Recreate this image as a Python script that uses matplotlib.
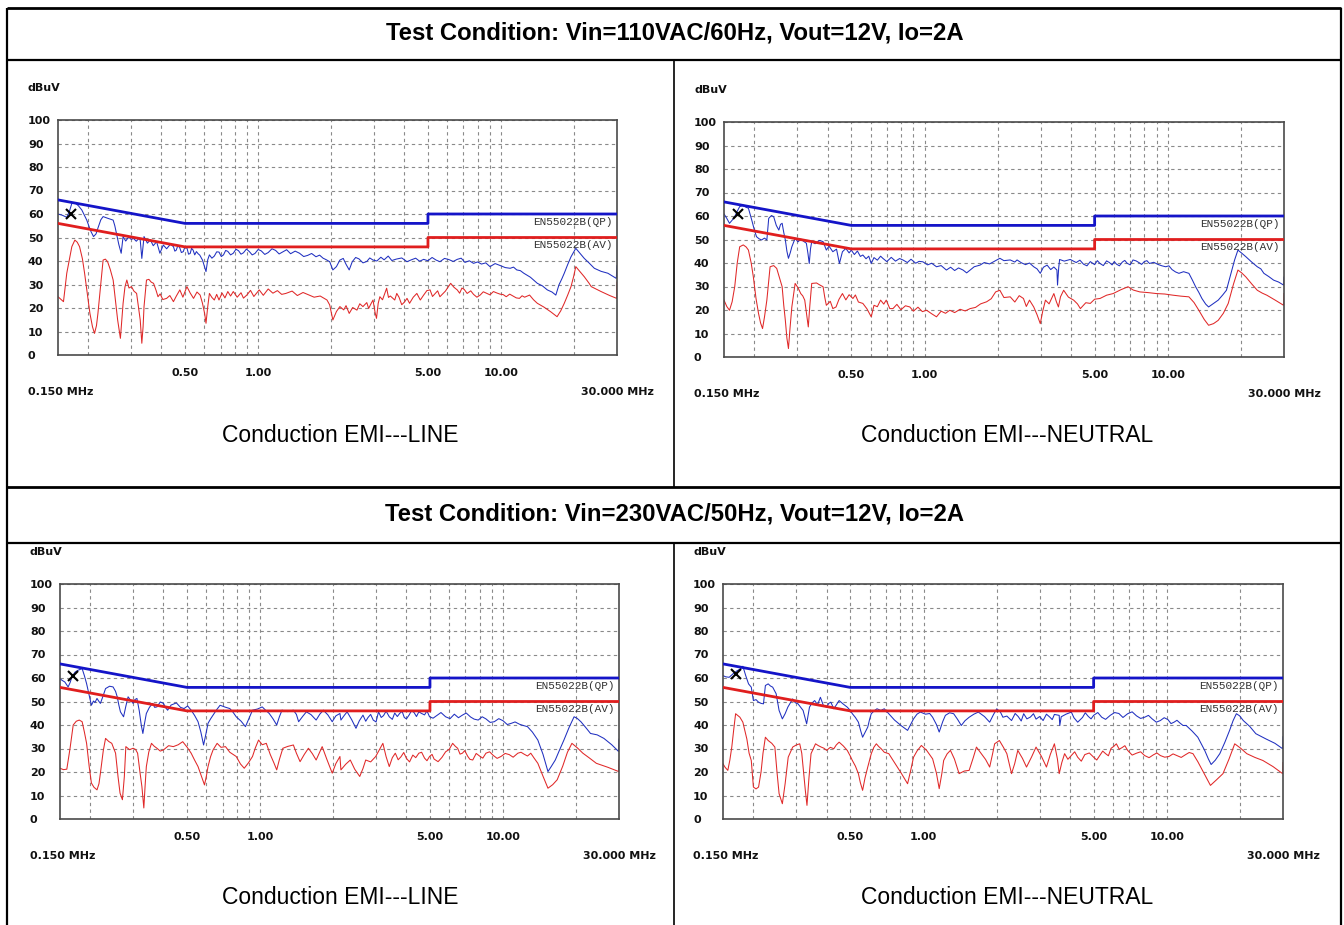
import matplotlib
matplotlib.use('Agg')
import matplotlib.pyplot as plt
import matplotlib.transforms as mtransforms
from matplotlib.lines import Line2D
from matplotlib.ticker import NullFormatter
import numpy as np

# ---- data (freq MHz, level dBuV) ----
titles = ["Test Condition: Vin=110VAC/60Hz, Vout=12V, Io=2A",
          "Test Condition: Vin=230VAC/50Hz, Vout=12V, Io=2A"]
captions = ["Conduction EMI---LINE", "Conduction EMI---NEUTRAL"]

lim_f = [0.15, 0.5, 5, 5, 30]
lim_qp = [66, 56, 56, 60, 60]
lim_av = [56, 46, 46, 50, 50]

y_ticks = [0, 10, 20, 30, 40, 50, 60, 70, 80, 90, 100]
x_ticks = [0.5, 1, 5, 10]
x_ticklabels = ["0.50", "1.00", "5.00", "10.00"]
x_grid = [0.2, 0.3, 0.4, 0.6, 0.7, 0.8, 0.9, 2, 3, 4, 6, 7, 8, 9, 20]

l110_qp = [(0.15,60),(0.156,59.5),(0.163,58.6),(0.167,61),(0.171,64.5),(0.176,64.8),(0.182,63.5),(0.188,61.7),
    (0.197,57.4),(0.204,53),(0.21,50.4),(0.215,51.5),(0.219,54),(0.225,57.5),(0.23,58.9),(0.24,58.2),(0.253,57.4),
    (0.257,55),(0.261,51.8),(0.267,47),(0.273,43.3),(0.278,50.4),(0.285,48.5),(0.293,50.2),(0.3,49.2),(0.307,49.6),
    (0.315,48.4),(0.322,49.5),(0.327,48.9),(0.332,41.1),(0.339,50.4),(0.35,47.6),(0.36,49),(0.37,46.5),(0.382,48.2),
    (0.394,43.3),(0.407,46.8),(0.42,45.2),(0.435,47.1),(0.448,46.1),(0.454,44.2),(0.46,44.6),(0.467,46.5),
    (0.475,45.8),(0.483,43.6),(0.492,44),(0.5,46.2),(0.51,45.3),(0.517,42.9),(0.525,43.2),(0.532,45.4),(0.54,44.6),
    (0.548,42.6),(0.557,44),(0.566,43.1),(0.575,42.5),(0.582,41.5),(0.59,40.4),(0.6,38),(0.61,35.5),(0.62,40.5),
    (0.63,42.6),(0.645,41.2),(0.66,42.1),(0.675,43.9),(0.69,43.8),(0.705,41.9),(0.72,42.6),(0.735,44.5),(0.75,44.1),
    (0.77,42.6),(0.79,43.3),(0.81,45),(0.83,44.4),(0.85,42.9),(0.87,43.5),(0.895,45.1),(0.92,44),(0.945,42.6),
    (0.97,43.2),(1.0,44.9),(1.03,44.3),(1.065,42.8),(1.1,43.6),(1.14,45.2),(1.18,44.5),(1.22,43),(1.27,44),
    (1.31,44.8),(1.36,43.1),(1.42,44.2),(1.48,43.3),(1.54,41.9),(1.6,42.4),(1.66,43.2),(1.73,41.8),(1.79,42.5),
    (1.85,41.2),(1.91,40.5),(1.97,39.7),(2.03,36.2),(2.1,37.6),(2.17,40.4),(2.24,41.1),(2.3,38.6),(2.37,36.2),
    (2.44,39.7),(2.52,41.5),(2.6,40.9),(2.7,39.2),(2.8,39.8),(2.88,41.3),(2.97,40.4),(3.08,40),(3.2,41.6),
    (3.3,40.5),(3.43,42.1),(3.55,40.2),(3.7,40.8),(3.9,41.3),(4.1,39.7),(4.27,40.5),(4.45,41.2),(4.62,39.9),
    (4.8,40.7),(5.0,40.1),(5.2,41.5),(5.4,40.4),(5.6,39.7),(5.85,41.1),(6.1,40.6),(6.35,39.8),(6.6,40.7),
    (6.85,41.2),(7.1,39.4),(7.4,40.1),(7.7,39),(8.0,39.6),(8.3,38.7),(8.65,39.2),(9.0,37.6),(9.45,38.9),(9.9,38.1),
    (10.4,37.2),(10.9,36.9),(11.25,37.4),(11.6,36.2),(12.0,35.9),(12.4,34.8),(13.2,33.1),(14.1,30.5),
    (14.8,29.4),(15.5,27.7),(16.2,26.8),(16.8,25.5),(17.3,29.8),(17.8,32.5),(18.2,34.8),(18.8,38.5),(19.4,41.8),
    (20.3,45.4),(21.1,43.3),(22,41.1),(23,39.2),(24.2,36.9),(25.8,35.6),(27.5,34.8),(29.8,32.6),(30,38)]

l110_av = [(0.15,24.8),(0.155,23.5),(0.158,22.7),(0.163,34.8),(0.168,42),(0.171,46.1),(0.176,48.9),(0.18,48),
    (0.184,46.1),(0.189,41),(0.193,34.8),(0.198,26),(0.203,17.7),(0.208,12),(0.212,9.2),(0.216,12.5),(0.219,17.7),
    (0.225,30),(0.23,40.4),(0.235,40.8),(0.24,39.7),(0.246,36.5),(0.253,31.9),(0.258,24),(0.264,14.9),(0.271,7.1),
    (0.278,22),(0.283,29),(0.288,31.9),(0.294,28.5),(0.301,29.1),(0.308,27.2),(0.316,26.2),(0.322,20),(0.327,14.9),
    (0.332,5),(0.336,12),(0.339,20.6),(0.347,31.9),(0.355,32.2),(0.363,31),(0.371,30.5),(0.38,27.5),(0.387,24.8),
    (0.395,26),(0.405,23.6),(0.42,24.1),(0.433,25.3),(0.448,22.7),(0.46,25),(0.476,27.7),(0.49,24.6),(0.509,29.1),
    (0.525,26.4),(0.542,24.1),(0.56,26.8),(0.577,25.5),(0.59,22),(0.602,17.7),(0.61,13.5),(0.62,20.5),(0.63,26.2),
    (0.645,24.5),(0.66,23.4),(0.675,25.8),(0.69,23.4),(0.71,26.4),(0.73,24.3),(0.75,27),(0.77,25.1),(0.79,27),
    (0.82,24.6),(0.85,26.5),(0.87,24.2),(0.9,25.6),(0.93,27.5),(0.96,24.9),(1.01,27.7),(1.05,25.4),(1.1,28.1),
    (1.15,26.3),(1.2,27.4),(1.25,25.8),(1.3,26.2),(1.38,27.2),(1.45,25.3),(1.53,26.6),(1.62,25.5),(1.7,24.6),
    (1.8,25.1),(1.92,23.4),(1.97,21.3),(2.03,14.9),(2.1,18.5),(2.17,20.6),(2.25,19.2),(2.3,21),(2.37,17.7),
    (2.45,20.2),(2.55,19.1),(2.62,21.8),(2.7,20.6),(2.8,22.3),(2.85,19.8),(2.9,21.4),(2.97,23.4),(3.03,18),
    (3.07,15.6),(3.12,22),(3.17,24.8),(3.25,23.5),(3.38,28.4),(3.44,24.5),(3.5,25.1),(3.65,23.4),(3.72,26.2),
    (3.8,24.6),(3.9,21.4),(4.0,22.5),(4.1,24.1),(4.2,22),(4.35,24.6),(4.5,26.2),(4.65,23.4),(4.8,25.5),(4.95,27.4),
    (5.1,27.7),(5.22,24.9),(5.35,26.1),(5.48,27.3),(5.6,24.8),(5.75,26),(5.9,27.2),(6.2,30.5),(6.4,28.8),(6.6,27.7),
    (6.75,26.3),(6.9,28.5),(7.05,27.9),(7.25,26.2),(7.5,27.3),(7.7,25.8),(7.95,24.6),(8.2,25.5),(8.45,26.9),
    (8.7,26.3),(9.0,25.6),(9.3,27),(9.6,26.4),(9.9,25.9),(10.2,25.7),(10.5,24.8),(10.85,25.9),(11.2,25.1),
    (11.55,24.3),(11.9,24.1),(12.2,25.2),(12.5,24.6),(13.1,25.5),(13.6,23.5),(14.1,22),(15,20.4),(16,18.4),
    (17,16.3),(17.6,18.8),(18.2,22),(18.8,25.5),(19.4,29.1),(19.9,33.5),(20.3,37.6),(21.1,35.5),(22,33.3),
    (23,30.6),(23.5,29.1),(25.8,27),(28,25.3),(29.9,24.1),(30,31)]

n110_qp = [(0.15,60.9),(0.154,59),(0.158,56.9),(0.162,58.2),(0.166,59.7),(0.17,62),(0.174,64),(0.18,64.6),
    (0.185,63.7),(0.189,63.3),(0.195,58.3),(0.2,54),(0.204,51.2),(0.209,50.3),(0.214,49.8),(0.22,50.6),(0.225,49.8),
    (0.229,59),(0.235,60.2),(0.24,59.7),(0.246,56),(0.252,54),(0.256,56.4),(0.26,56.9),(0.264,53),(0.268,49.8),
    (0.272,45),(0.276,42),(0.281,44.5),(0.285,46.9),(0.294,50.5),(0.302,49),(0.31,50.2),(0.318,49.3),(0.327,48.4),
    (0.332,44),(0.336,39.8),(0.34,46),(0.344,49.1),(0.355,48.2),(0.37,49.6),(0.383,49.1),(0.395,45.5),(0.405,47.2),
    (0.42,44.8),(0.435,45.9),(0.447,39.8),(0.46,44.8),(0.475,46.2),(0.49,44.3),(0.5,45.5),(0.515,43.6),(0.53,45.1),
    (0.545,42.8),(0.558,43.4),(0.575,41.8),(0.59,42.9),(0.604,39.8),(0.62,42.3),(0.64,41.2),(0.66,42.9),(0.674,42),
    (0.7,40.6),(0.73,42.4),(0.76,40.8),(0.79,41.9),(0.815,41.3),(0.85,40.2),(0.88,41.6),(0.92,39.9),(0.95,40.7),
    (0.985,40.5),(1.03,39.2),(1.07,39.9),(1.12,38.4),(1.17,38.9),(1.23,37),(1.28,38.2),(1.33,36.8),(1.38,37.9),
    (1.44,37),(1.49,35.8),(1.54,37),(1.6,38.4),(1.69,39.1),(1.76,40.2),(1.85,39.6),(1.98,41.3),(2.04,42),(2.12,41),
    (2.25,41.3),(2.35,40.4),(2.4,41.3),(2.5,40.1),(2.6,39.3),(2.7,40),(2.81,38.4),(2.9,37.5),(2.99,35.6),(3.08,38.2),
    (3.19,39.1),(3.3,37.2),(3.4,38.3),(3.5,37),(3.52,30.6),(3.56,38),(3.59,41.5),(3.75,40.8),(3.97,41.5),(4.2,40.2),
    (4.35,41.2),(4.5,39.5),(4.65,38.8),(4.8,40.6),(5.0,39.3),(5.13,41),(5.26,39.8),(5.43,38.9),(5.6,40.9),
    (5.75,40.2),(5.9,39.2),(6.02,40.6),(6.15,39.5),(6.32,38.8),(6.5,40.4),(6.65,41.1),(6.8,39.9),(7.0,39.2),
    (7.19,41.3),(7.4,40.9),(7.6,40.2),(7.8,39.4),(8.0,40.6),(8.2,41),(8.4,39.8),(8.75,40.3),(9.1,39.4),(9.45,38.8),
    (9.8,38.4),(10.1,38.8),(10.4,37.2),(10.75,36.2),(11.1,35.6),(11.6,36.3),(12.2,35.6),
    (12.6,32.8),(13,29.9),(13.4,27.5),(13.8,24.9),(14.3,22.5),(14.7,21.3),(15.4,22.8),(16.1,24.2),(16.8,26.4),
    (17.4,28.4),(18.1,35),(18.8,41.3),(19.4,45.5),(20.1,44.2),(20.9,42.7),(22.1,40.4),(23.3,38.4),(24.1,37.5),
    (24.8,35.6),(26,34.2),(27.2,32.7),(28.5,31.9),(29.9,30.6),(30,34)]

n110_av = [(0.15,24.2),(0.154,21.5),(0.158,19.9),(0.162,23.5),(0.166,29.9),(0.17,40),(0.174,46.9),(0.18,47.7),
    (0.185,46.8),(0.189,45.5),(0.194,40),(0.198,34.1),(0.203,25),(0.208,18.5),(0.212,14.5),(0.216,12.1),(0.22,17),
    (0.225,24.2),(0.232,38.4),(0.24,38.9),(0.247,37.7),(0.253,34),(0.26,29.9),(0.264,22),(0.268,15.6),(0.272,8),
    (0.276,3.6),(0.28,12),(0.285,21.3),(0.294,31.3),(0.302,29.5),(0.31,27),(0.316,26),(0.322,24.2),(0.328,18),
    (0.333,12.8),(0.338,22),(0.344,31.3),(0.36,31.5),(0.372,30.6),(0.383,29.9),(0.389,25.5),(0.395,22),(0.41,23.7),
    (0.42,20.6),(0.433,21.3),(0.445,24.5),(0.46,27),(0.475,24.3),(0.49,26.5),(0.508,24.9),(0.52,26.4),(0.535,23.4),
    (0.558,22.8),(0.58,20.5),(0.604,17.1),(0.62,22),(0.64,21.4),(0.66,24.2),(0.68,22.5),(0.696,24.2),(0.72,20.6),
    (0.742,20.6),(0.77,22.4),(0.8,20.1),(0.835,21.8),(0.87,21.3),(0.9,19.5),(0.94,21.2),(0.98,19.3),(1.02,19.9),
    (1.07,18.4),(1.12,17.1),(1.17,19.5),(1.22,18.6),(1.27,19.9),(1.33,18.9),(1.4,20.3),(1.47,19.6),(1.54,20.6),
    (1.62,21.1),(1.7,22.6),(1.8,23.5),(1.88,24.8),(1.96,27.7),(2.04,28.4),(2.12,25.3),(2.25,25.6),(2.35,23.4),
    (2.45,26.1),(2.55,24.9),(2.62,21.5),(2.7,24.2),(2.81,21.3),(2.9,18),(2.99,14.2),(3.06,19.5),(3.14,24.2),
    (3.25,22.6),(3.4,27),(3.48,23.6),(3.55,21.3),(3.62,25.6),(3.73,28.4),(3.9,25.5),(4.1,24.2),(4.25,22.6),
    (4.37,20.6),(4.6,23.1),(4.8,22.8),(5.0,24.6),(5.26,24.9),(5.6,26.3),(5.96,27),(6.4,28.6),(6.86,29.9),(7.2,28.5),
    (7.67,27.7),(8.3,27.4),(8.96,27),(9.7,26.8),(10.5,26.3),(11.3,25.9),(12.2,25.6),(12.8,23.2),(13.4,19.9),
    (14.1,16),(14.7,13.5),(15.4,14.2),(16.1,15.6),(16.9,18.6),(17.7,22.8),(18.6,31),(19.4,37),(20.1,35.8),
    (20.9,34.1),(22.1,31.1),(23.3,28.4),(24.4,27.2),(25.5,26.3),(27.6,24.2),(29.9,22),(30,27)]

l230_qp = [(0.15,59.7),(0.153,59),(0.157,58.3),(0.162,56.2),(0.165,58),(0.168,60.5),(0.173,62.5),(0.178,63.3),
    (0.185,64),(0.189,61),(0.193,57.6),(0.199,51.3),(0.202,48.4),(0.206,50.2),(0.209,49.6),(0.213,51.3),(0.217,50),
    (0.22,49.2),(0.225,52),(0.231,55.5),(0.24,56.5),(0.248,56.2),(0.254,54.3),(0.258,52),(0.262,48.5),(0.266,45.6),
    (0.274,43.5),(0.28,48),(0.286,52),(0.293,50.5),(0.3,49.2),(0.305,50.8),(0.311,51.3),(0.318,46),(0.324,40),
    (0.329,36.4),(0.334,40.5),(0.34,44.9),(0.35,47.5),(0.361,49.2),(0.368,47.5),(0.376,47.7),(0.388,49.8),(0.4,49.2),
    (0.408,47.4),(0.416,46.3),(0.43,48.5),(0.452,49.4),(0.47,47.5),(0.486,47),(0.503,48.1),(0.52,46.3),(0.537,44.1),
    (0.555,41.4),(0.57,37),(0.585,31.5),(0.597,35.8),(0.61,40.7),(0.625,42.6),(0.64,44.2),(0.662,46.5),(0.684,48.4),
    (0.718,47.6),(0.75,47),(0.775,45.3),(0.797,43.5),(0.835,41.6),(0.87,39.3),(0.9,42.8),(0.93,46.3),(0.975,46.8),
    (1.02,47.7),(1.055,46.2),(1.09,44.9),(1.13,42.6),(1.17,40),(1.2,43.5),(1.23,46.3),(1.3,45.7),(1.37,46.3),
    (1.41,44.5),(1.44,41.4),(1.5,43.8),(1.55,45.6),(1.62,44.4),(1.7,42.1),(1.76,44.6),(1.82,46.3),(1.9,44.3),
    (1.98,41.4),(2.05,43.9),(2.13,44.9),(2.15,42.1),(2.22,44.1),(2.28,45.6),(2.38,42.3),(2.48,38.6),(2.56,41.8),
    (2.65,44.2),(2.72,41.6),(2.78,43.2),(2.85,44.5),(2.92,42.1),(3.0,41.3),(3.07,45.6),(3.15,43.2),(3.22,44),
    (3.3,45.9),(3.4,43.5),(3.5,42.4),(3.58,45.1),(3.67,43.6),(3.75,44.9),(3.84,45.8),(3.92,43.2),(4.0,42.6),
    (4.1,44.2),(4.2,46.1),(4.3,45.3),(4.4,43.6),(4.5,45.6),(4.62,44.9),(4.75,44.3),(4.86,46),(4.98,43.5),
    (5.15,42.9),(5.35,44.1),(5.55,45.3),(5.8,43.5),(6.05,42.7),(6.3,44.6),(6.55,43.1),(6.8,44.2),(7.05,45.1),
    (7.35,43.4),(7.6,42.5),(7.9,42.1),(8.2,43.5),(8.5,42.6),(8.85,41.1),(9.2,41.4),(9.6,42.7),(10,41.8),
    (10.4,40.2),(10.8,40.7),(11.2,41.3),(11.7,40.3),(12.1,39.8),(12.6,39.3),(13.2,37),
    (13.9,33.6),(14.6,27.5),(15.3,20.2),(15.8,22.4),(16.4,25.1),(17.1,29.5),(17.8,33.6),(18.7,39),(19.6,43.5),
    (20.2,42.8),(20.9,41.4),(21.9,38.9),(22.9,36.4),(24.4,35.8),(26,34.3),(28,31.6),(29.9,28.7),(30,34)]

l230_av = [(0.15,21.6),(0.155,21),(0.16,21.2),(0.165,30.1),(0.17,40),(0.175,41.6),(0.18,42.1),(0.185,41.4),
    (0.189,37),(0.193,32.2),(0.198,22),(0.202,15.3),(0.207,13.5),(0.213,12.4),(0.217,15),(0.22,19.5),(0.226,29),
    (0.231,34.3),(0.238,33),(0.245,32.2),(0.254,28),(0.26,18),(0.265,11),(0.271,8.2),(0.276,18),(0.28,30.8),
    (0.29,29.5),(0.3,30.1),(0.307,29.6),(0.313,28),(0.32,20),(0.326,13.8),(0.332,4.7),(0.336,14),(0.34,22.3),
    (0.348,28.5),(0.357,32.2),(0.366,31),(0.376,30.1),(0.388,28.9),(0.4,29.4),(0.42,31.2),(0.439,30.8),(0.46,31.6),
    (0.48,32.9),(0.5,30.6),(0.52,28),(0.537,25.1),(0.555,22.3),(0.572,18.5),(0.59,14.5),(0.6,18),(0.61,22.3),
    (0.625,26.5),(0.64,29.4),(0.665,32.2),(0.69,30.5),(0.72,30.8),(0.75,28.4),(0.797,26.6),(0.83,23.4),(0.86,21.6),
    (0.895,23.9),(0.93,26.6),(0.955,30.2),(0.985,33.6),(1.02,31.6),(1.06,32.2),(1.1,27.5),(1.14,23.8),(1.17,20.9),
    (1.2,25.3),(1.24,30.1),(1.3,30.9),(1.37,31.5),(1.41,28),(1.46,24.4),(1.52,27.5),(1.58,30.1),(1.64,27.8),
    (1.7,25.1),(1.75,28),(1.8,30.8),(1.88,25.5),(1.98,19.5),(2.05,23.6),(2.13,26.6),(2.15,20.9),(2.25,23.3),
    (2.35,25.1),(2.45,21.2),(2.57,18.1),(2.65,21.5),(2.72,25.1),(2.85,24.3),(2.99,26.6),(3.1,29.6),(3.2,32.2),
    (3.3,26.5),(3.4,22.3),(3.5,26.1),(3.6,28),(3.7,25.2),(3.8,26.5),(3.9,28.3),(4.0,25.8),(4.12,24.3),(4.25,27.2),
    (4.37,26.1),(4.5,28),(4.62,28.4),(4.75,25.9),(4.86,24.8),(4.98,26.6),(5.1,27.5),(5.2,25.5),(5.4,24.4),
    (5.6,26.2),(5.8,28.6),(6.0,29.6),(6.2,32.2),(6.35,31),(6.5,30.1),(6.65,27.6),(6.8,28),(6.95,29.1),(7.15,26.7),
    (7.3,25.4),(7.5,25.1),(7.75,27.9),(8.0,26.8),(8.25,25.9),(8.5,28),(8.8,28.6),(9.1,27.1),(9.45,25.8),(9.8,26.6),
    (10.2,27.9),(10.6,27.4),(11.0,26.3),(11.5,28),(11.85,28.4),(12.2,27.6),(12.6,26.8),(13,28),(13.4,26),
    (13.9,23.7),(14.6,18.2),(15.3,13.1),(16,14.6),(16.7,16.7),(17.6,22.5),(18.4,28.4),(19.2,32.2),(20.2,30.3),
    (21.3,28),(22.7,25.9),(24.2,23.7),(27,22),(29.9,20.2),(30,25)]

n230_qp = [(0.15,61),(0.154,60.5),(0.159,60.3),(0.165,61.8),(0.171,63),(0.177,63.9),(0.181,65),(0.186,61),
    (0.191,57.5),(0.196,56.1),(0.2,50.4),(0.205,50.8),(0.21,49.7),(0.215,49.2),(0.22,49),(0.224,56.8),(0.23,57.5),
    (0.235,56.6),(0.24,56.1),(0.248,53.3),(0.255,46.2),(0.263,42.6),(0.27,44.8),(0.277,47.6),(0.29,51.1),
    (0.297,49.5),(0.305,49),(0.313,47.5),(0.32,46.2),(0.326,43),(0.331,40.5),(0.336,44.5),(0.34,47.6),(0.348,49.3),
    (0.357,50.4),(0.367,48.6),(0.377,51.8),(0.388,48.2),(0.4,47.6),(0.408,49.2),(0.416,49.7),(0.428,46.9),
    (0.438,48.5),(0.45,50.4),(0.468,48.9),(0.486,47.6),(0.5,46.2),(0.51,44.8),(0.525,43.2),(0.54,41.2),(0.552,37.5),
    (0.562,34.8),(0.575,36.8),(0.59,39.1),(0.6,42.3),(0.61,44.8),(0.628,46.1),(0.644,46.9),(0.668,46.2),(0.69,46.9),
    (0.72,44.8),(0.76,42.1),(0.81,39.7),(0.86,37.7),(0.885,40.2),(0.91,42.6),(0.94,44.6),(0.97,45.5),(1.02,44.6),
    (1.06,44.9),(1.09,43.3),(1.13,40.2),(1.16,37),(1.2,41.5),(1.23,44.1),(1.28,45.2),(1.33,44.8),(1.38,42.4),
    (1.43,39.8),(1.48,41.8),(1.54,43.3),(1.61,44.6),(1.68,45.5),(1.78,43.6),(1.87,41.2),(1.94,44.5),(2.0,46.9),
    (2.07,45.5),(2.12,43.3),(2.2,43.8),(2.3,41.9),(2.38,44.9),(2.45,43.6),(2.52,41.7),(2.58,44.8),(2.66,42.6),
    (2.75,43.4),(2.83,44.8),(2.9,42.5),(3.0,43.6),(3.1,41.9),(3.2,44.6),(3.3,43.4),(3.38,42.3),(3.45,44.5),
    (3.61,44.1),(3.63,39.8),(3.68,43.5),(3.85,44.6),(4.05,45.5),(4.15,43.1),(4.3,41.2),(4.5,43.2),(4.62,45.2),
    (4.75,43.7),(4.88,42.6),(5.0,44.1),(5.2,45.3),(5.4,43.3),(5.6,42.4),(5.85,44.1),(6.1,45.3),(6.35,44.9),
    (6.6,43.2),(6.9,44.8),(7.2,45.6),(7.5,43.9),(7.8,42.8),(8.1,43.3),(8.4,44.1),(8.7,42.6),(9.05,41.2),(9.4,41.9),
    (9.75,43.1),(10.1,42.3),(10.4,40.6),(10.7,41.2),(11.0,42),(11.3,40.9),(11.65,39.8),(12,39.8),(12.7,37.4),
    (13.4,34.8),(14.3,29.2),(14.8,25.6),(15.2,23.2),(15.8,25),(16.5,27.8),(17.3,32.6),(18.1,37.7),(18.7,41.8),
    (19.3,44.8),(19.9,43.9),(20.6,41.9),(21.9,39.4),(23.2,36.3),(24.3,35.2),(25.5,34.1),(27.8,32.2),(29.9,29.9),
    (30,35)]

n230_av = [(0.15,23.5),(0.153,22),(0.157,20.7),(0.16,25),(0.163,30.6),(0.166,38),(0.169,44.8),(0.176,43.3),
    (0.181,41.2),(0.188,34),(0.192,28),(0.196,24.9),(0.2,13.6),(0.205,12.8),(0.21,13.6),(0.215,20),(0.219,28),
    (0.224,34.8),(0.23,33.4),(0.238,32.2),(0.245,30.6),(0.25,20),(0.255,10.8),(0.263,6.5),(0.27,15),(0.278,26.3),
    (0.29,30.6),(0.3,31.5),(0.31,32),(0.316,28),(0.321,20.7),(0.327,12),(0.332,5.8),(0.338,17),(0.345,27.8),
    (0.36,32),(0.37,31.2),(0.38,30.6),(0.39,30.1),(0.4,29.2),(0.414,30.5),(0.428,29.9),(0.438,31.5),(0.45,32.7),
    (0.468,31.1),(0.486,29.2),(0.5,26.8),(0.51,24.9),(0.525,22.5),(0.54,19.3),(0.55,15.5),(0.562,12.2),(0.575,17.5),
    (0.59,22.1),(0.61,27.8),(0.625,30.5),(0.64,32),(0.655,30.8),(0.67,29.9),(0.69,28.4),(0.72,27.8),(0.76,24),
    (0.81,19.5),(0.86,15),(0.885,20.5),(0.91,26.3),(0.94,28.9),(0.98,31.3),(1.03,29.2),(1.09,25.6),(1.13,19.5),
    (1.16,12.9),(1.19,19.5),(1.21,24.9),(1.25,27.7),(1.29,29.2),(1.34,25.5),(1.4,19.3),(1.47,20.4),(1.54,20.7),
    (1.6,26),(1.65,30.6),(1.72,28.1),(1.8,25.3),(1.87,22.1),(1.92,27.5),(1.96,32),(2.05,33.4),(2.13,30.5),
    (2.2,27.8),(2.3,19.3),(2.37,23.6),(2.44,29.2),(2.55,25.8),(2.65,22.1),(2.78,26.4),(2.9,30.6),(3.05,26.7),
    (3.2,22.1),(3.32,27.5),(3.45,32),(3.55,25.5),(3.61,19.3),(3.7,24),(3.8,27.8),(3.92,25.4),(4.05,27),
    (4.18,28.6),(4.3,26.3),(4.45,24.6),(4.6,27.4),(4.8,28.1),(5.0,26.3),(5.15,25.1),(5.3,27),(5.45,28.9),(5.6,27.8),
    (5.75,26.9),(5.9,30.1),(6.05,30.9),(6.2,32),(6.37,29.7),(6.55,30.4),(6.72,31.2),(6.9,29.2),(7.2,27.2),(7.5,28),
    (7.8,28.6),(8.1,27),(8.45,26.1),(8.8,27.3),(9.1,28.1),(9.4,27),(9.8,26.3),(10.2,26.6),(10.6,27.7),(11,27),
    (11.45,26.2),(11.9,27.3),(12.35,28.3),(12.8,27.8),(13.4,24.4),(14,20.7),(14.6,17.1),(15.1,14.3),(16,16.7),
    (17,19.3),(18,25.5),(19,32),(20.1,30.1),(21.3,27.8),(23,26.2),(24.8,24.9),(27.3,22.3),(29.9,19.3),(30,24)]

# peak markers (freq, level)
markers = [(0.169, 60.2), (0.172, 60.9), (0.170, 60.7), (0.170, 61.8)]

# ---- layout (pixel boxes: left, top, right, bottom of plot area) ----
W, H = 1344, 925
boxes = [(58, 120, 617, 355), (724, 122, 1284, 357), (60, 584, 619, 819), (723, 584, 1283, 819)]
traces = [(l110_qp, l110_av), (n110_qp, n110_av), (l230_qp, l230_av), (n230_qp, n230_av)]
cap_y = [435, 435, 897, 897]
cap_x = [340, 1007, 340, 1007]

QP_BLUE = '#1414c8'
AV_RED = '#e01e1e'
TR_BLUE = '#2030c0'
TR_RED = '#e02828'
CAP_FONT = ['Liberation Sans', 'DejaVu Sans']
SMALL = 8


def fx(x):
    return x / W


def fy(y):
    return 1 - y / H


fig = plt.figure(figsize=(W / 100, H / 100), dpi=100)


def rule(x0, y0, x1, y1, lw=1.6):
    fig.add_artist(Line2D([fx(x0), fx(x1)], [fy(y0), fy(y1)], transform=fig.transFigure,
                          color='black', lw=lw, solid_capstyle='butt'))


# table borders
rule(7, 8, 1341, 8, 2.0)
rule(7, 8, 7, 925)
rule(1341, 8, 1341, 925)
rule(7, 60, 1341, 60)
rule(674, 60, 674, 487, 1.2)
rule(7, 487, 1341, 487, 2.0)
rule(7, 543, 1341, 543, 1.6)
rule(674, 543, 674, 925, 1.2)

fig.text(fx(675), fy(33), titles[0], ha='center', va='center', fontsize=17.2,
         fontweight='bold', family=CAP_FONT)
fig.text(fx(675), fy(514), titles[1], ha='center', va='center', fontsize=17.2,
         fontweight='bold', family=CAP_FONT)

for i in range(4):
    l, t, r, b = boxes[i]
    ax = fig.add_axes([fx(l), fy(b), fx(r) - fx(l), fy(t) - fy(b)])
    ax.set_xscale('log')

    qp, av = traces[i]
    qf, qv = np.array(sorted(qp)).T
    af, av_ = np.array(sorted(av)).T
    ax.plot(af, av_, color=TR_RED, lw=0.75, zorder=2)
    ax.plot(qf, qv, color=TR_BLUE, lw=0.75, zorder=2)
    ax.plot(lim_f, lim_qp, color=QP_BLUE, lw=2.0, zorder=3)
    ax.plot(lim_f, lim_av, color=AV_RED, lw=2.0, zorder=3)
    mf, mv = markers[i]
    ax.plot([mf], [mv], marker='x', color='black', ms=7, mew=1.5, zorder=4)

    ax.set_xlim(0.15, 30)
    ax.set_ylim(0, 100)

    ax.set_xticks(x_ticks)
    ax.set_xticklabels(x_ticklabels)
    ax.set_xticks(x_grid, minor=True)
    ax.xaxis.set_minor_formatter(NullFormatter())
    ax.set_yticks(y_ticks)
    ax.set_yticklabels([str(v) for v in y_ticks])
    ax.tick_params(which='both', length=0)
    ax.tick_params(axis='x', pad=9)
    ax.tick_params(axis='y', pad=30 * 0.72)
    for lab in ax.get_yticklabels():
        lab.set_horizontalalignment('left')
        lab.set_fontweight('bold')
        lab.set_fontsize(SMALL)
        lab.set_color('#111111')
    for lab in ax.get_xticklabels():
        lab.set_fontweight('bold')
        lab.set_fontsize(SMALL)
        lab.set_color('#111111')

    ax.grid(True, which='both', axis='x', color='#8a8a8a', lw=0.8, ls=(0, (3, 3)))
    ax.grid(True, which='major', axis='y', color='#8a8a8a', lw=0.8, ls=(0, (3, 3)))
    ax.set_axisbelow(True)
    for s in ax.spines.values():
        s.set_color('#4a4a4a')
        s.set_linewidth(1.2)

    # limit line names
    tr = mtransforms.blended_transform_factory(ax.transAxes, ax.transData)
    ax.text(0.993, 56.6, 'EN55022B(QP)', transform=tr, ha='right', va='center',
            fontsize=8, family=['Liberation Mono', 'DejaVu Sans Mono'], color='#333333')
    ax.text(0.993, 46.8, 'EN55022B(AV)', transform=tr, ha='right', va='center',
            fontsize=8, family=['Liberation Mono', 'DejaVu Sans Mono'], color='#333333')

    # unit and range texts
    fig.text(fx(l - 30), fy(t - 32), 'dBuV', ha='left', va='center', fontsize=SMALL,
             fontweight='bold', color='#111111')
    fig.text(fx(l - 30), fy(b + 37), '0.150 MHz', ha='left', va='center', fontsize=SMALL,
             fontweight='bold', color='#111111')
    fig.text(fx(r + 37), fy(b + 37), '30.000 MHz', ha='right', va='center', fontsize=SMALL,
             fontweight='bold', color='#111111')

    fig.text(fx(cap_x[i]), fy(cap_y[i]), captions[i % 2], ha='center', va='center',
             fontsize=16.5, family=CAP_FONT)

fig.savefig('out.png', dpi=100)
